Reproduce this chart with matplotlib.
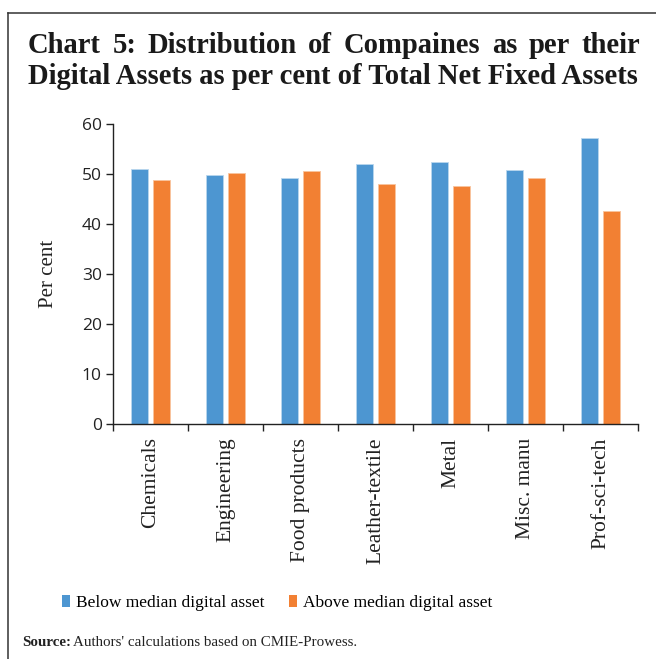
import numpy as np
import matplotlib
matplotlib.use("Agg")
import matplotlib.pyplot as plt
from matplotlib.lines import Line2D
from matplotlib.patches import Patch

# data
categories = ["Chemicals", "Engineering", "Food products", "Leather-textile",
              "Metal", "Misc. manu", "Prof-sci-tech"]
below_median = [51.1, 49.8, 49.3, 52.0, 52.4, 50.8, 57.3]
above_median = [48.9, 50.2, 50.7, 48.0, 47.6, 49.2, 42.7]
series_names = ["Below median digital asset", "Above median digital asset"]
title_lines = ["Chart 5: Distribution of Compaines as per their",
               "Digital Assets as per cent of Total Net Fixed Assets"]
yticks = [0, 10, 20, 30, 40, 50, 60]

BLUE = "#4d96d1"
ORANGE = "#f28033"
SERIF = "Liberation Serif"

W, H = 656, 659
fig = plt.figure(figsize=(W / 100, H / 100), dpi=100)

# frame lines (top and left)
fig.add_artist(Line2D([8 / W, 1], [1 - 13 / H, 1 - 13 / H], color="#333333", lw=1.1))
fig.add_artist(Line2D([8 / W, 8 / W], [0, 1 - 13 / H], color="#333333", lw=1.1))

ax = fig.add_axes([113 / W, 235 / H, 525 / W, 300 / H])
x = np.arange(len(categories))
bw = 0.225
ax.bar(x - 0.145, below_median, bw, color=BLUE, edgecolor="#b9d6ee", linewidth=0.6)
ax.bar(x + 0.145, above_median, bw, color=ORANGE, edgecolor="#f8c49f", linewidth=0.6)

ax.set_xlim(-0.5, len(categories) - 0.5)
ax.set_ylim(0, 60)
ax.set_yticks(yticks)
ax.set_yticklabels([str(v) for v in yticks], family="Open Sans", fontsize=12.5,
                   color="#222222")
ax.set_xticks(np.arange(len(categories) + 1) - 0.5)
ax.set_xticklabels([])
ax.tick_params(axis="both", direction="out", length=5, width=1, color="#222222")
ax.tick_params(axis="y", pad=3)
for i, c in enumerate(categories):
    ax.text(i, -0.045, c, transform=ax.get_xaxis_transform(), rotation=90,
            ha="center", va="top", family=SERIF, fontsize=15.5, color="#222222")
for s in ["top", "right"]:
    ax.spines[s].set_visible(False)
for s in ["left", "bottom"]:
    ax.spines[s].set_color("#222222")
    ax.spines[s].set_linewidth(1)
ax.set_ylabel("Per cent", family=SERIF, fontsize=15, color="#222222", labelpad=17)

# legend
handles = [Patch(facecolor=BLUE), Patch(facecolor=ORANGE)]
fig.legend(handles, series_names, loc="center", bbox_to_anchor=(0.422, 1 - 603 / H),
           ncol=2, frameon=False, prop={"family": SERIF, "size": 12.5},
           handlelength=0.46, handleheight=0.7, handletextpad=0.35, columnspacing=1.4)

# title, first line justified across the width
renderer = fig.canvas.get_renderer()
left, right = 28, 640
tsize = 18.5
t2 = fig.text(left / W, 1 - 84 / H, title_lines[1], family=SERIF, weight="bold",
              fontsize=tsize, color="#1a1a1a", ha="left", va="baseline")
w2 = t2.get_window_extent(renderer).width
tsize = tsize * (right - left) / w2
t2.set_fontsize(tsize)

words = title_lines[0].split()
widths = []
for wd in words:
    t = fig.text(0, 0, wd, family=SERIF, weight="bold", fontsize=tsize)
    widths.append(t.get_window_extent(renderer).width)
    t.remove()
gap = (right - left - sum(widths)) / (len(words) - 1)
pos = left
for wd, ww in zip(words, widths):
    fig.text(pos / W, 1 - 53 / H, wd, family=SERIF, weight="bold", fontsize=tsize,
             color="#1a1a1a", ha="left", va="baseline")
    pos += ww + gap

# source note
fig.text(22 / W, 1 - 646 / H, "Source:", family=SERIF, weight="bold", fontsize=10.8,
         color="#222222", ha="left", va="baseline")
fig.text(73 / W, 1 - 646 / H, "Authors' calculations based on CMIE-Prowess.",
         family=SERIF, fontsize=10.8, color="#222222", ha="left", va="baseline")

fig.savefig("out.png", dpi=100)
